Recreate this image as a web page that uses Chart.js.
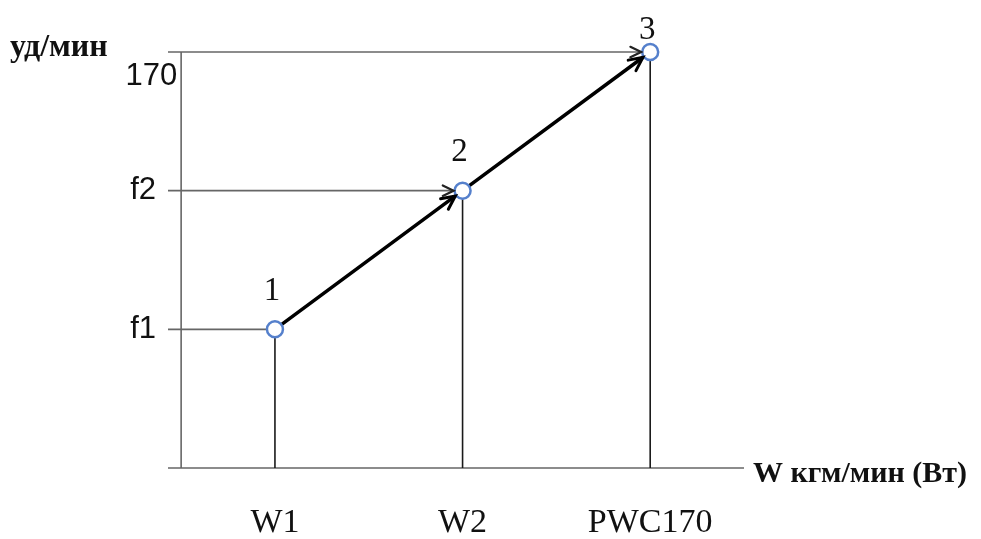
<!DOCTYPE html>
<html>
<head>
<meta charset="utf-8">
<title>PWC170</title>
<script src="https://cdn.jsdelivr.net/npm/chart.js@4.4.1/dist/chart.umd.min.js"></script>
<style>
    body { margin: 0; background: #fff; }
    .wrap { width: 981px; height: 539px; }
</style>
</head>
<body>
<div class="wrap"><canvas id="pwc"></canvas></div>

<script>
    // workload points (x) and heart rate (y), equally spaced as in the picture
    var W_LABELS = ['W1', 'W2', 'PWC170'];
    var W_VALUES = [1, 2, 3];
    var HR_LABELS = ['f1', 'f2', '170'];
    var HR_VALUES = [110, 140, 170];
    var POINT_NAMES = ['1', '2', '3'];

    var X_MIN = 0.43, X_MAX = 3.5;    // x-axis runs a little left of the y axis
    var Y_MIN = 80, Y_MAX = 170;
    var Y_AXIS_AT = 0.5;              // where the vertical axis stands

    var AXIS_COL = '#666';
    var SERIF = '"Liberation Serif", "Times New Roman", serif';

    function seg(x0, y0, x1, y1, col, w) {
        return {
            data: [{x: x0, y: y0}, {x: x1, y: y1}],
            borderColor: col, borderWidth: w,
            pointRadius: 0, clip: false, fill: false
        };
    }

    var datasets = [];
    // main path, drawn on top (index 0 goes last)
    datasets.push({
        data: W_VALUES.map(function (w, i) { return {x: w, y: HR_VALUES[i]}; }),
        borderColor: '#000', borderWidth: 3.5,
        pointRadius: 8, pointBorderWidth: 2.5,
        pointBorderColor: '#5580cc', pointBackgroundColor: '#fff',
        clip: false, fill: false
    });
    for (var i = 0; i < W_VALUES.length; i++) {
        datasets.push(seg(X_MIN, HR_VALUES[i], W_VALUES[i], HR_VALUES[i], AXIS_COL, 1.6)); // guide to y axis
        datasets.push(seg(W_VALUES[i], HR_VALUES[i], W_VALUES[i], Y_MIN, '#1a1a1a', 1.6)); // drop to x axis
    }
    datasets.push(seg(X_MIN, Y_MIN, X_MAX, Y_MIN, AXIS_COL, 1.6));
    datasets.push(seg(Y_AXIS_AT, Y_MIN, Y_AXIS_AT, Y_MAX, AXIS_COL, 1.6));

    function arrowHead(ctx, fx, fy, tx, ty, back, len, col, w) {
        var a = Math.atan2(ty - fy, tx - fx);
        var px = tx - Math.cos(a) * back, py = ty - Math.sin(a) * back;
        ctx.save();
        ctx.strokeStyle = col; ctx.lineWidth = w; ctx.lineCap = 'round';
        ctx.beginPath();
        ctx.moveTo(px - Math.cos(a - 0.45) * len, py - Math.sin(a - 0.45) * len);
        ctx.lineTo(px, py);
        ctx.lineTo(px - Math.cos(a + 0.45) * len, py - Math.sin(a + 0.45) * len);
        ctx.stroke();
        ctx.restore();
    }

    var decor = {
        id: 'decor',
        afterDatasetsDraw: function (chart) {
            var ctx = chart.ctx, xs = chart.scales.x, ys = chart.scales.y;
            var pts = W_VALUES.map(function (w, i) {
                return {x: xs.getPixelForValue(w), y: ys.getPixelForValue(HR_VALUES[i])};
            });
            var left = xs.getPixelForValue(X_MIN);
            var axisX = xs.getPixelForValue(Y_AXIS_AT);
            var base = ys.getPixelForValue(Y_MIN);

            // arrow heads on the path and on the upper guides
            for (var i = 1; i < pts.length; i++) {
                arrowHead(ctx, pts[i - 1].x, pts[i - 1].y, pts[i].x, pts[i].y, 9, 15, '#000', 3);
                arrowHead(ctx, left, pts[i].y, pts[i].x, pts[i].y, 9, 12, '#222', 2.2);
            }

            ctx.save();
            ctx.fillStyle = '#111';
            // point numbers
            ctx.font = '33px ' + SERIF;
            ctx.textAlign = 'center'; ctx.textBaseline = 'middle';
            pts.forEach(function (p, i) {
                ctx.fillText(POINT_NAMES[i], p.x - 3, Math.max(p.y - 38, 30));
            });
            // x labels
            ctx.font = '34px ' + SERIF;
            pts.forEach(function (p, i) {
                ctx.fillText(W_LABELS[i], p.x, base + 55);
            });
            // y labels
            ctx.font = '31px "Liberation Sans", Arial, sans-serif';
            ctx.textAlign = 'right';
            pts.forEach(function (p, i) {
                if (i === pts.length - 1) {
                    ctx.textBaseline = 'top';
                    ctx.fillText(HR_LABELS[i], axisX - 4, p.y + 9);
                } else {
                    ctx.textBaseline = 'middle';
                    ctx.fillText(HR_LABELS[i], left - 12, p.y);
                }
            });
            // axis titles
            ctx.font = 'bold 32px ' + SERIF;
            ctx.textAlign = 'left'; ctx.textBaseline = 'alphabetic';
            ctx.fillText('уд/мин', 10, 56);
            ctx.font = 'bold 30px ' + SERIF;
            ctx.fillText('W кгм/мин (Вт)', 753, base + 14);
            ctx.restore();
        }
    };

    new Chart(document.getElementById('pwc'), {
        type: 'line',
        data: {datasets: datasets},
        options: {
            responsive: true,
            maintainAspectRatio: false,
            animation: false,
            layout: {padding: {left: 168, right: 237, top: 52, bottom: 71}},
            plugins: {legend: {display: false}, tooltip: {enabled: false}},
            scales: {
                x: {type: 'linear', min: X_MIN, max: X_MAX, display: false},
                y: {type: 'linear', min: Y_MIN, max: Y_MAX, display: false}
            }
        },
        plugins: [decor]
    });
</script>
</body>
</html>
